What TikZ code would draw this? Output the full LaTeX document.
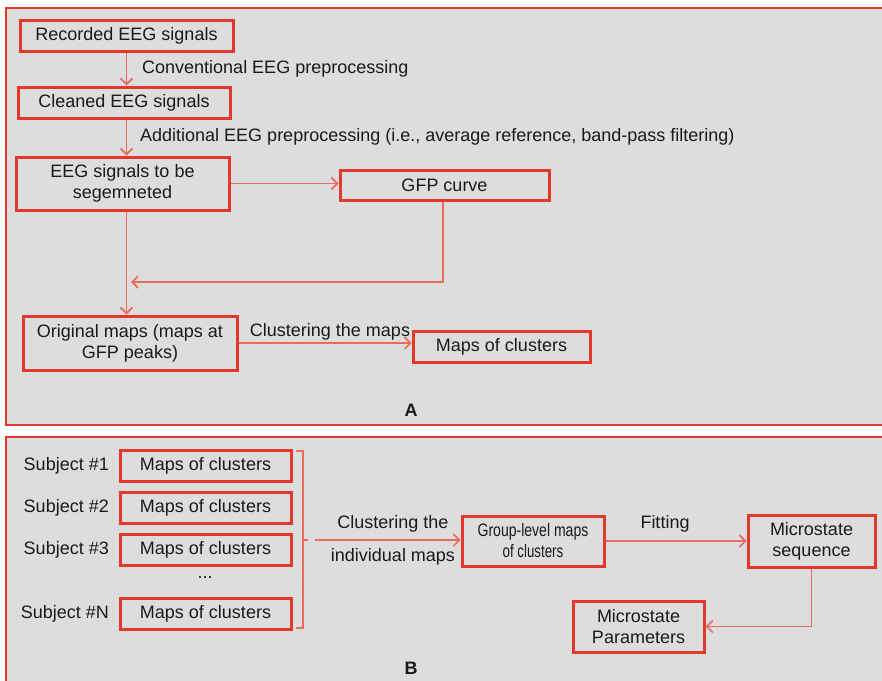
\documentclass[tikz,border=0pt]{standalone}
\usepackage{fontspec}
\setmainfont{Liberation Sans}
\usepackage{xcolor}
\usetikzlibrary{arrows.meta}
\definecolor{boxred}{HTML}{E3382B}
\definecolor{linered}{HTML}{EC6A5E}
\definecolor{panelgray}{HTML}{DDDDDD}
\definecolor{ink}{HTML}{1A1A1A}

\begin{document}
\begin{tikzpicture}[x=1pt,y=-1pt,
  font=\fontsize{18}{21}\selectfont, text=ink,
  panel/.style={draw=boxred,line width=2.4pt,fill=panelgray},
  stage/.style={draw=boxred,line width=3pt,align=center,inner sep=0pt},
  flow/.style={linered,line width=1.6pt,-{Straight Barb[length=6pt,width=12pt]}},
  lbl/.style={inner sep=0pt}]
  \useasboundingbox (0,0) rectangle (882,680);
  \clip (0,0) rectangle (882,680);
  % the two panels
  \draw[panel] (6,8) rectangle (895,425);
  \draw[panel] (6,437) rectangle (895,695);
  % panel A: stages
  \node[stage,minimum width=213pt,minimum height=31pt] (rec) at (126.5,35.5) {Recorded EEG signals};
  \node[stage,minimum width=212pt,minimum height=31pt] (cln) at (124,102.5) {Cleaned EEG signals};
  \node[stage,minimum width=213pt,minimum height=53pt] (seg) at (122.5,183.5) {EEG signals to be\\segemneted};
  \node[stage,minimum width=209pt,minimum height=30pt] (gfp) at (444.5,185) {GFP curve};
  \node[stage,minimum width=214pt,minimum height=54pt] (orig) at (130,343) {Original maps (maps at\\GFP peaks)};
  \node[stage,minimum width=177pt,minimum height=31pt] (mcA) at (501.5,346.5) {Maps of clusters};
  % panel A: arrows and their texts
  \draw[flow] (rec.south) -- (rec.south |- cln.north);
  \node[lbl,anchor=west] (conv) at (142,69) {Conventional EEG preprocessing};
  \draw[flow] (rec.south |- cln.south) -- (rec.south |- seg.north);
  \node[lbl,anchor=west] (add) at (140,137) {Additional EEG preprocessing (i.e., average reference, band-pass filtering)};
  \draw[flow] (seg.east) -- (seg.east -| gfp.west);
  \coordinate (fbcorner) at (443,282);
  \coordinate (fbend) at (131,282);
  \draw[flow] (gfp.south -| fbcorner) -- (fbcorner) -- (fbend);
  \draw[flow] (rec.south |- seg.south) -- (rec.south |- orig.north);
  \draw[flow] (orig.east) -- (orig.east -| mcA.west);
  \node[lbl] (clA) at (330,332) {Clustering the maps};
  \node[lbl,font=\fontsize{18}{21}\selectfont\bfseries] (tagA) at (411,410) {A};
  % panel B: one row per subject
  \foreach \n/\y/\s in {1/465.5/\#1,2/507.5/\#2,3/549.5/\#3,N/614/\#N} {
    \node[stage,minimum width=171pt,minimum height=31pt] (mc\n) at (205.5,\y) {Maps of clusters};
    \node[lbl,anchor=east] (sub\n) at (109,\y) {Subject \s};
  }
  \node[lbl] (dots) at (205,578) {...};
  % bracket round the subjects
  \draw[linered,line width=1.5pt] (296,451) -- (303,451) -- (303,628) -- (296,628);
  \draw[linered,line width=1.5pt] (303,540) -- (308,540);
  \coordinate (brk) at (315,540);
  \node[stage,minimum width=142pt,minimum height=50pt] (grp) at (533,541)
    {\scalebox{0.78}[1]{Group-level maps}\\\scalebox{0.74}[1]{of clusters}};
  \node[stage,minimum width=127pt,minimum height=52pt] (msq) at (811.5,541) {Microstate\\sequence};
  \node[stage,minimum width=131pt,minimum height=51pt] (mpar) at (638.5,626.5) {Microstate\\Parameters};
  \draw[flow] (brk) -- (brk -| grp.west);
  \node[lbl] (clB1) at (393,524) {Clustering the};
  \node[lbl] (clB2) at (393,557) {individual maps};
  \draw[flow] (grp.east) -- (msq.west);
  \node[lbl] (fit) at (665,524) {Fitting};
  \draw[flow] (msq.south) -- (msq.south |- mpar.east) -- (mpar.east);
  \node[lbl,font=\fontsize{18}{21}\selectfont\bfseries] (tagB) at (411,668) {B};
\end{tikzpicture}
\end{document}
